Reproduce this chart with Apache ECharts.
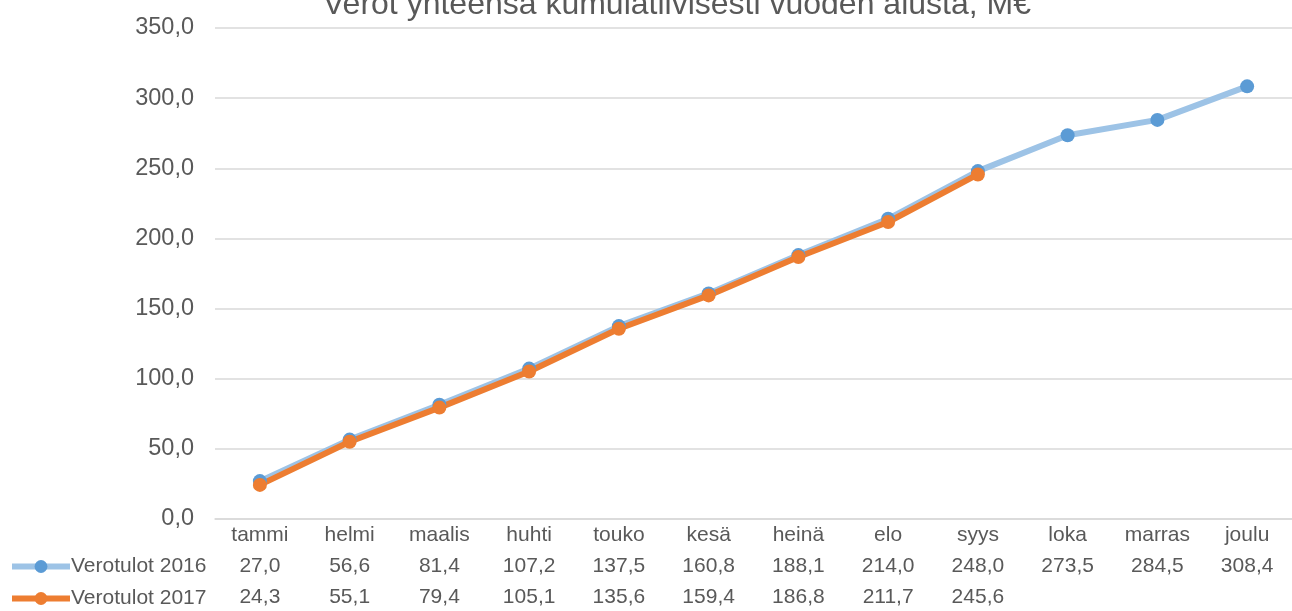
<!DOCTYPE html>
<html>
<head>
<meta charset="utf-8">
<script src="https://cdn.jsdelivr.net/npm/echarts@6/dist/echarts.min.js"></script>
<style>
html,body{margin:0;padding:0;background:#fff;}
#chart{width:1292px;height:611px;}
</style>
</head>
<body>
<div id="chart"></div>
<script>
const titleText = 'Verot yhteensä kumulatiivisesti vuoden alusta, M€';
const months = ['tammi','helmi','maalis','huhti','touko','kesä','heinä','elo','syys','loka','marras','joulu'];
const name2016 = 'Verotulot 2016';
const name2017 = 'Verotulot 2017';
const values2016 = [27.0, 56.6, 81.4, 107.2, 137.5, 160.8, 188.1, 214.0, 248.0, 273.5, 284.5, 308.4];
const values2017 = [24.3, 55.1, 79.4, 105.1, 135.6, 159.4, 186.8, 211.7, 245.6, null, null, null];
const yMin = 0, yMax = 350, yStep = 50;

const FONT = '"Liberation Sans", Arial, sans-serif';
const TXT = '#595959';
const fmt = v => (v === null || v === undefined) ? '' : Number(v).toFixed(1).replace('.', ',');

const chart = echarts.init(document.getElementById('chart'), null, {renderer: 'canvas'});

const tableAxis = (vals, offset) => ({
  type: 'category',
  gridIndex: 0,
  position: 'bottom',
  offset: offset,
  data: months,
  axisLine: {show: false},
  axisTick: {show: false},
  splitLine: {show: false},
  axisLabel: {
    interval: 0,
    margin: 6,
    fontSize: 21,
    fontFamily: FONT,
    color: TXT,
    formatter: (v, i) => fmt(vals[i])
  }
});

const legendFor = (name, top) => ({
  orient: 'vertical',
  left: 9,
  top: top,
  padding: 0,
  itemWidth: 58,
  itemHeight: 16,
  itemGap: 0,
  lineStyle: {width: 6},
  textStyle: {fontSize: 21, fontFamily: FONT, color: TXT, padding: [0,0,0,-4]},
  data: [name]
});

chart.setOption({
  animation: false,
  backgroundColor: '#ffffff',
  graphic: [{
    type: 'text',
    x: 677,
    y: 21,
    style: {
      text: titleText,
      font: '32px ' + FONT,
      fill: TXT,
      textAlign: 'center',
      textVerticalAlign: 'bottom'
    }
  }],
  legend: [legendFor(name2016, 556), legendFor(name2017, 588)],
  grid: {left: 215, top: 28, width: 1080, height: 491, containLabel: false},
  xAxis: [
    {
      type: 'category',
      data: months,
      boundaryGap: true,
      axisLine: {show: true, lineStyle: {color: '#d9d9d9', width: 1.5}},
      axisTick: {show: false},
      axisLabel: {interval: 0, margin: 6, fontSize: 21, fontFamily: FONT, color: TXT}
    },
    tableAxis(values2016, 31),
    tableAxis(values2017, 62)
  ],
  yAxis: {
    type: 'value',
    min: yMin,
    max: yMax,
    interval: yStep,
    axisLine: {show: false},
    axisTick: {show: false},
    splitLine: {lineStyle: {color: '#d9d9d9', width: 1.5}},
    axisLabel: {margin: 21, fontSize: 23.5, fontFamily: FONT, color: TXT, formatter: v => fmt(v)}
  },
  series: [
    {
      name: name2016,
      type: 'line',
      xAxisIndex: 0,
      data: values2016,
      symbol: 'circle',
      symbolSize: 14,
      lineStyle: {color: '#9DC3E6', width: 6},
      itemStyle: {color: '#5B9BD5'},
      color: '#5B9BD5'
    },
    {
      name: name2017,
      type: 'line',
      xAxisIndex: 0,
      data: values2017,
      symbol: 'circle',
      symbolSize: 14,
      lineStyle: {color: '#ED7D31', width: 6},
      itemStyle: {color: '#ED7D31'},
      color: '#ED7D31'
    }
  ]
});
</script>
</body>
</html>
